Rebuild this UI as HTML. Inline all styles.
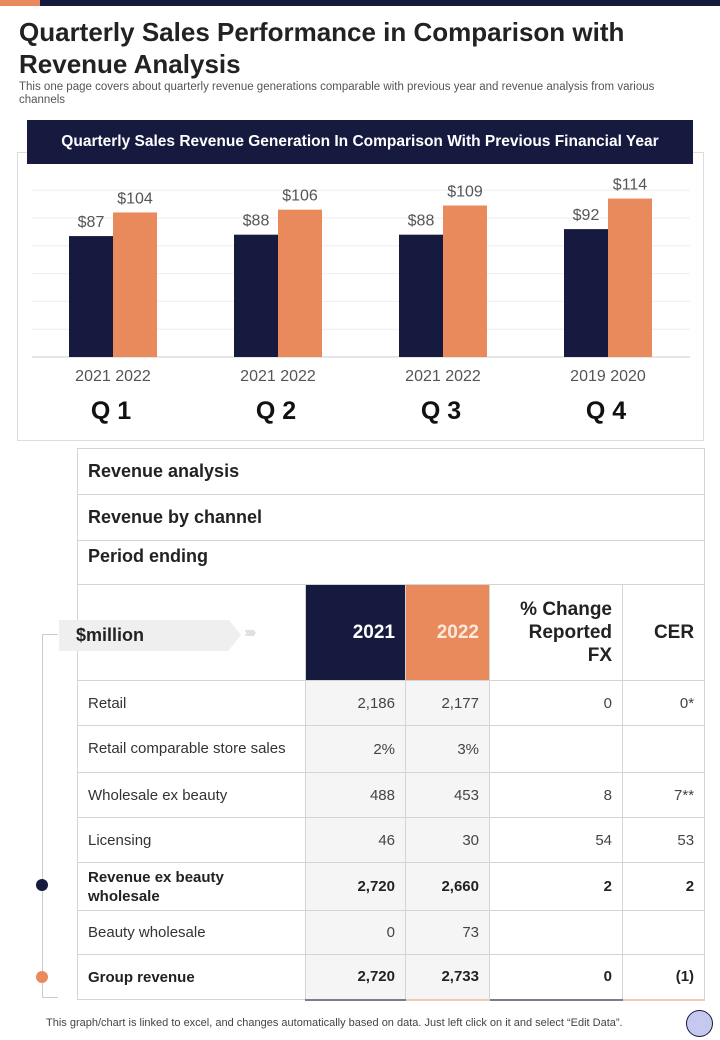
<!DOCTYPE html>
<html><head><meta charset="utf-8">
<style>
*{margin:0;padding:0;box-sizing:border-box}
body{width:720px;height:1040px;position:relative;background:#fff;font-family:"Liberation Sans",sans-serif;overflow:hidden;color:#222}
.abs{position:absolute}
table{border-collapse:collapse;position:absolute;left:77px;top:448px;width:627px;table-layout:fixed}
td{border:1px solid #d4d4d4;font-size:15px;color:#444;padding:0 10px;text-align:right}
td.l{text-align:left;color:#333}
td.g{background:#f5f5f5}
tr.b td{font-weight:bold;color:#222}
.sec td{font-size:18px;font-weight:bold;color:#222;text-align:left;border-left:1px solid #d4d4d4;border-right:1px solid #d4d4d4}
.hd td{font-size:19px;font-weight:bold;color:#222}
</style></head><body>
<div class="abs" style="left:0;top:0;width:40px;height:6px;background:#e98a5c"></div>
<div class="abs" style="left:40px;top:0;width:680px;height:6px;background:#161a3f"></div>
<div class="abs" style="left:19px;top:16px;font-size:26px;font-weight:bold;line-height:32px;color:#222">Quarterly Sales Performance in Comparison with<br>Revenue Analysis</div>
<div class="abs" style="left:19px;top:81px;font-size:11.5px;line-height:13px;color:#555;width:650px">This one page covers about quarterly revenue generations comparable with previous year and revenue analysis from various channels</div>
<div class="abs" style="left:17px;top:152px;width:687px;height:289px;border:1px solid #ddd"></div>
<div class="abs" style="left:27px;top:120px;width:666px;height:44px;background:#161a3f;color:#fff;font-size:15.5px;font-weight:bold;text-align:center;line-height:44px">Quarterly Sales Revenue Generation In Comparison With Previous Financial Year</div>
<svg class="abs" style="left:0;top:0" width="720" height="445" id="chart"></svg>
<script>
const quarters=["Q 1","Q 2","Q 3","Q 4"];
const yearLabels=["2021 2022","2021 2022","2021 2022","2019 2020"];
const prevValues=[87,88,88,92];
const currValues=[104,106,109,114];
const gridTicks=[0,20,40,60,80,100,120];
const svg=document.getElementById('chart');const NS='http://www.w3.org/2000/svg';
const y=v=>357-v*1.39; const xc=i=>113+i*165;
function mk(t,a){const e=document.createElementNS(NS,t);for(const k in a)e.setAttribute(k,a[k]);svg.appendChild(e);return e;}
gridTicks.forEach(t=>{const l=mk('line',{x1:32,x2:690,y1:y(t),y2:y(t),stroke:t===0?'#ccc':'#eee','stroke-width':1});

});
quarters.forEach((q,i)=>{
 const a=mk('rect',{x:xc(i)-44,y:y(prevValues[i]),width:44,height:prevValues[i]*1.39,fill:'#161a3f'});
 
 
 const b=mk('rect',{x:xc(i),y:y(currValues[i]),width:44,height:currValues[i]*1.39,fill:'#e98a5c'});
 
 
 const t1=mk('text',{x:xc(i)-22,y:y(prevValues[i])-9,'text-anchor':'middle','font-size':16,fill:'#555'});t1.textContent='$'+prevValues[i];
 
 
 const t2=mk('text',{x:xc(i)+22,y:y(currValues[i])-9,'text-anchor':'middle','font-size':16,fill:'#555'});t2.textContent='$'+currValues[i];
 
 
 const yl=mk('text',{x:xc(i),y:381,'text-anchor':'middle','font-size':16,fill:'#555'});yl.textContent=yearLabels[i];
 
 
 const ql=mk('text',{x:xc(i)-2,y:419,'text-anchor':'middle','font-size':25,'font-weight':'bold',fill:'#111'});ql.textContent=q;
 
 
});
</script>
<div class="abs" style="left:42px;top:634px;width:16px;height:364px;border-left:1px solid #ccc;border-top:1px solid #ccc;border-bottom:1px solid #ccc"></div>
<table>
<colgroup><col style="width:228px"><col style="width:100px"><col style="width:84px"><col style="width:133px"><col style="width:82px"></colgroup>
<tr class="sec" style="height:46px"><td colspan="5">Revenue analysis</td></tr>
<tr class="sec" style="height:46px"><td colspan="5">Revenue by channel</td></tr>
<tr class="sec" style="height:44px"><td colspan="5" style="vertical-align:top;padding-top:5px">Period ending</td></tr>
<tr class="hd" style="height:96px"><td style="border-right:none"></td><td style="background:#161a3f;color:#fff">2021</td><td style="background:#e98a5c;color:#fde8dc">2022</td><td style="line-height:23px">% Change<br>Reported FX</td><td>CER</td></tr>
<tr style="height:45px"><td class="l">Retail</td><td class="g">2,186</td><td class="g">2,177</td><td>0</td><td>0*</td></tr>
<tr style="height:47px"><td class="l" style="line-height:18px">Retail comparable store sales</td><td class="g">2%</td><td class="g">3%</td><td></td><td></td></tr>
<tr style="height:45px"><td class="l">Wholesale ex beauty</td><td class="g">488</td><td class="g">453</td><td>8</td><td>7**</td></tr>
<tr style="height:45px"><td class="l">Licensing</td><td class="g">46</td><td class="g">30</td><td>54</td><td>53</td></tr>
<tr class="b" style="height:48px"><td class="l" style="line-height:19px">Revenue ex beauty wholesale</td><td class="g">2,720</td><td class="g">2,660</td><td>2</td><td>2</td></tr>
<tr style="height:44px"><td class="l">Beauty wholesale</td><td class="g">0</td><td class="g">73</td><td></td><td></td></tr>
<tr class="b" style="height:45px"><td class="l">Group revenue</td><td class="g" style="border-bottom:2px solid #7a7d90">2,720</td><td class="g" style="border-bottom:2px solid #f4c9b4">2,733</td><td style="border-bottom:2px solid #7a7d90">0</td><td style="border-bottom:2px solid #f4c9b4">(1)</td></tr>
</table>
<div class="abs" style="left:59px;top:620px;width:170px;height:31px;background:#efefef;font-size:18px;font-weight:bold;line-height:31px;padding-left:17px;color:#222">$million</div>
<div class="abs" style="left:229px;top:620px;width:0;height:0;border-top:15.5px solid transparent;border-bottom:15.5px solid transparent;border-left:12px solid #efefef"></div>
<div class="abs" style="left:244px;top:624px;font-size:16px;color:#ddd;font-weight:bold;letter-spacing:-3px">&#8250;&#8250;&#8250;&#8250;</div>
<div class="abs" style="left:36px;top:879px;width:12px;height:12px;border-radius:50%;background:#161a3f"></div>
<div class="abs" style="left:36px;top:971px;width:12px;height:12px;border-radius:50%;background:#e98a5c"></div>
<div class="abs" style="left:46px;top:1017px;font-size:11px;color:#444">This graph/chart is linked to excel, and changes automatically based on data. Just left click on it and select “Edit Data”.</div>
<div class="abs" style="left:686px;top:1010px;width:27px;height:27px;border-radius:50%;background:#c5c9ef;border:1.5px solid #161a3f"></div>
</body></html>
